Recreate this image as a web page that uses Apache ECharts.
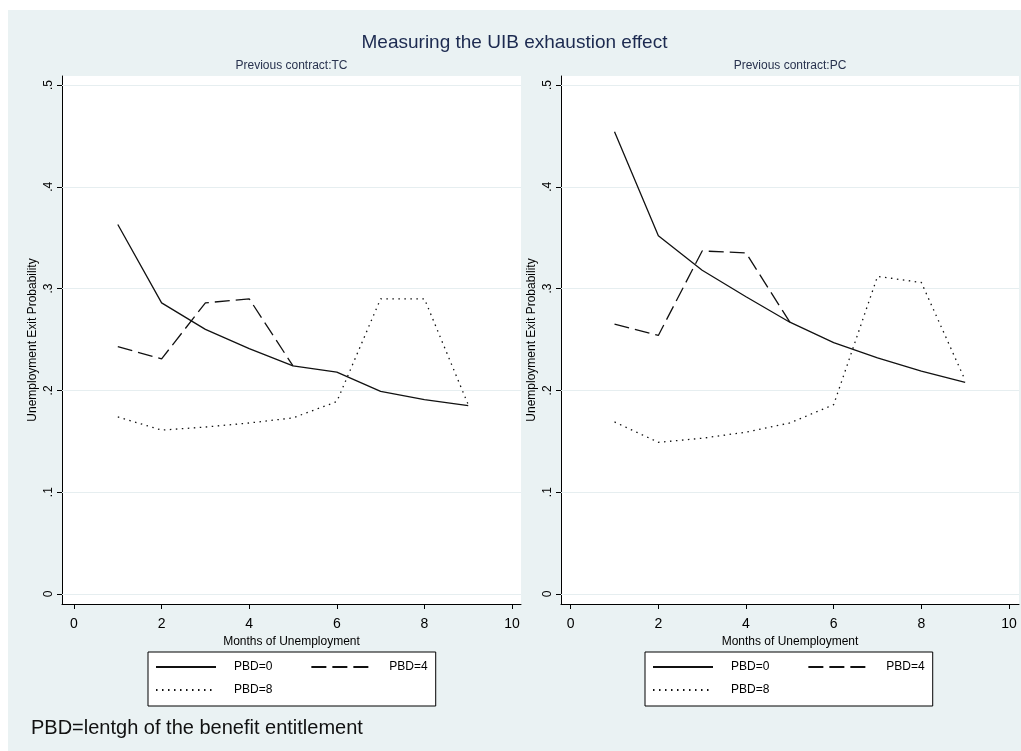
<!DOCTYPE html>
<html>
<head>
<meta charset="utf-8">
<title>Measuring the UIB exhaustion effect</title>
<script src="https://cdn.jsdelivr.net/npm/echarts@6/dist/echarts.min.js"></script>
<style>
  html, body { margin: 0; padding: 0; background: #ffffff; }
  #chart { width: 1021px; height: 751px; }
</style>
</head>
<body>
<div id="chart"></div>
<script>
// Months since entry into unemployment
var months = [1, 2, 3, 4, 5, 6, 7, 8, 9];

// Exit probabilities, previous contract TC
var tcPbd0 = [0.363, 0.286, 0.260, 0.241, 0.224, 0.218, 0.199, 0.191, 0.185];
var tcPbd4 = [0.243, 0.231, 0.286, 0.290, 0.224];
var tcPbd8 = [0.174, 0.161, 0.164, 0.168, 0.173, 0.189, 0.290, 0.290, 0.186];

// Exit probabilities, previous contract PC
var pcPbd0 = [0.454, 0.352, 0.318, 0.292, 0.267, 0.247, 0.232, 0.219, 0.208];
var pcPbd4 = [0.265, 0.254, 0.337, 0.335, 0.267];
var pcPbd8 = [0.169, 0.149, 0.153, 0.159, 0.168, 0.186, 0.312, 0.306, 0.210];

// Tick values
var xTicks = [0, 2, 4, 6, 8, 10];
var yTicks = [0, 0.1, 0.2, 0.3, 0.4, 0.5];

var seriesNames = ['PBD=0', 'PBD=4', 'PBD=8'];
var panelTitles = ['Previous contract:TC', 'Previous contract:PC'];

var FONT = '"Liberation Sans", Arial, Helvetica, sans-serif';
var INK = '#111111';

function pairs(values) {
  return values.map(function (v, i) { return [months[i], v]; });
}

function fmtY(v) {
  if (Math.abs(v) < 1e-9) return '0';
  return v.toFixed(1).replace(/^0/, '');
}

var lineTypes = ['solid', [15, 6], [1.5, 4.5]];

function panelSeries(panel, valuesList) {
  return valuesList.map(function (vals, k) {
    var s = {
      type: 'line',
      name: seriesNames[k],
      xAxisIndex: panel,
      yAxisIndex: panel,
      data: pairs(vals),
      symbol: 'none',
      showSymbol: false,
      silent: true,
      animation: false,
      itemStyle: { color: INK },
      lineStyle: { color: INK, width: 1.3, type: lineTypes[k] },
      emphasis: { disabled: true }
    };
    if (k === 0) {
      // horizontal grid lines across the plot region
      s.markLine = {
        silent: true,
        z: 1,
        animation: false,
        symbol: ['none', 'none'],
        label: { show: false },
        lineStyle: { color: '#e6eef0', type: 'solid', width: 1 },
        data: yTicks.map(function (v) { return { yAxis: v }; })
      };
    }
    return s;
  });
}

function xAxisFor(panel, min, max) {
  return {
    type: 'value',
    gridIndex: panel,
    min: min,
    max: max,
    axisLine: { show: true, onZero: false, lineStyle: { color: '#000', width: 1 } },
    axisTick: { show: true, customValues: xTicks, length: 5, lineStyle: { color: '#000' } },
    axisLabel: { show: true, customValues: xTicks, margin: 13, fontSize: 14, color: '#000', fontFamily: FONT },
    splitLine: { show: false },
    name: 'Months of Unemployment',
    nameLocation: 'middle',
    nameGap: 26,
    nameTextStyle: { fontSize: 12, color: '#000', fontFamily: FONT }
  };
}

function yAxisFor(panel) {
  return {
    type: 'value',
    gridIndex: panel,
    min: -0.00982,
    max: 0.50884,
    axisLine: { show: true, onZero: false, lineStyle: { color: '#000', width: 1 } },
    axisTick: { show: true, customValues: yTicks, length: 5, lineStyle: { color: '#000' } },
    axisLabel: { show: true, customValues: yTicks, rotate: 90, margin: 7, fontSize: 12, color: '#000', fontFamily: FONT, formatter: fmtY },
    splitLine: { show: false },
    name: 'Unemployment Exit Probability',
    nameLocation: 'middle',
    nameRotate: 90,
    nameGap: 23,
    nameTextStyle: { fontSize: 12, color: '#000', fontFamily: FONT }
  };
}

// label boxes: a transparent fill makes the padded box count in the legend layout
function legendText(padRight) {
  return {
    fontSize: 12, color: '#000', fontFamily: FONT,
    padding: [0, padRight, 0, 13],
    backgroundColor: 'rgba(255,255,255,0.01)'
  };
}

function legendFor(left) {
  return {
    left: left,
    top: 652,
    width: 280,
    orient: 'horizontal',
    padding: [9, 7, 10, 7],
    itemGap: 11,
    itemWidth: 60,
    itemHeight: 12,
    backgroundColor: '#ffffff',
    borderColor: '#000000',
    borderWidth: 1,
    borderRadius: 0,
    selectedMode: false,
    itemStyle: { opacity: 0 },
    textStyle: legendText(27),
    data: [
      { name: seriesNames[0] },
      { name: seriesNames[1], textStyle: legendText(1) },
      { name: seriesNames[2] }
    ]
  };
}

var chart = echarts.init(document.getElementById('chart'), null, { renderer: 'canvas' });

chart.setOption({
  animation: false,
  backgroundColor: '#ffffff',
  graphic: [{
    type: 'rect',
    left: 8,
    top: 10,
    z: -10,
    silent: true,
    shape: { width: 1013, height: 741 },
    style: { fill: '#eaf2f3' }
  }],
  title: [
    { text: 'Measuring the UIB exhaustion effect', left: 514.5, top: 33, textAlign: 'center', padding: 0,
      textStyle: { fontSize: 19, fontWeight: 'normal', color: '#1c2a50', fontFamily: FONT } },
    { text: panelTitles[0], left: 291.5, top: 60, textAlign: 'center', padding: 0,
      textStyle: { fontSize: 12, fontWeight: 'normal', color: '#28324e', fontFamily: FONT } },
    { text: panelTitles[1], left: 790, top: 60, textAlign: 'center', padding: 0,
      textStyle: { fontSize: 12, fontWeight: 'normal', color: '#28324e', fontFamily: FONT } },
    { text: 'PBD=lentgh of the benefit entitlement', left: 31, top: 718, padding: 0,
      textStyle: { fontSize: 20, fontWeight: 'normal', color: '#111111', fontFamily: FONT } }
  ],
  legend: [legendFor(148), legendFor(645)],
  grid: [
    { left: 62, top: 76, width: 459, height: 528, show: true, backgroundColor: '#ffffff', borderWidth: 0, containLabel: false },
    { left: 561, top: 76, width: 458, height: 528, show: true, backgroundColor: '#ffffff', borderWidth: 0, containLabel: false }
  ],
  xAxis: [xAxisFor(0, -0.274, 10.205), xAxisFor(1, -0.221, 10.228)],
  yAxis: [yAxisFor(0), yAxisFor(1)],
  series: panelSeries(0, [tcPbd0, tcPbd4, tcPbd8]).concat(panelSeries(1, [pcPbd0, pcPbd4, pcPbd8]))
});
</script>
</body>
</html>
